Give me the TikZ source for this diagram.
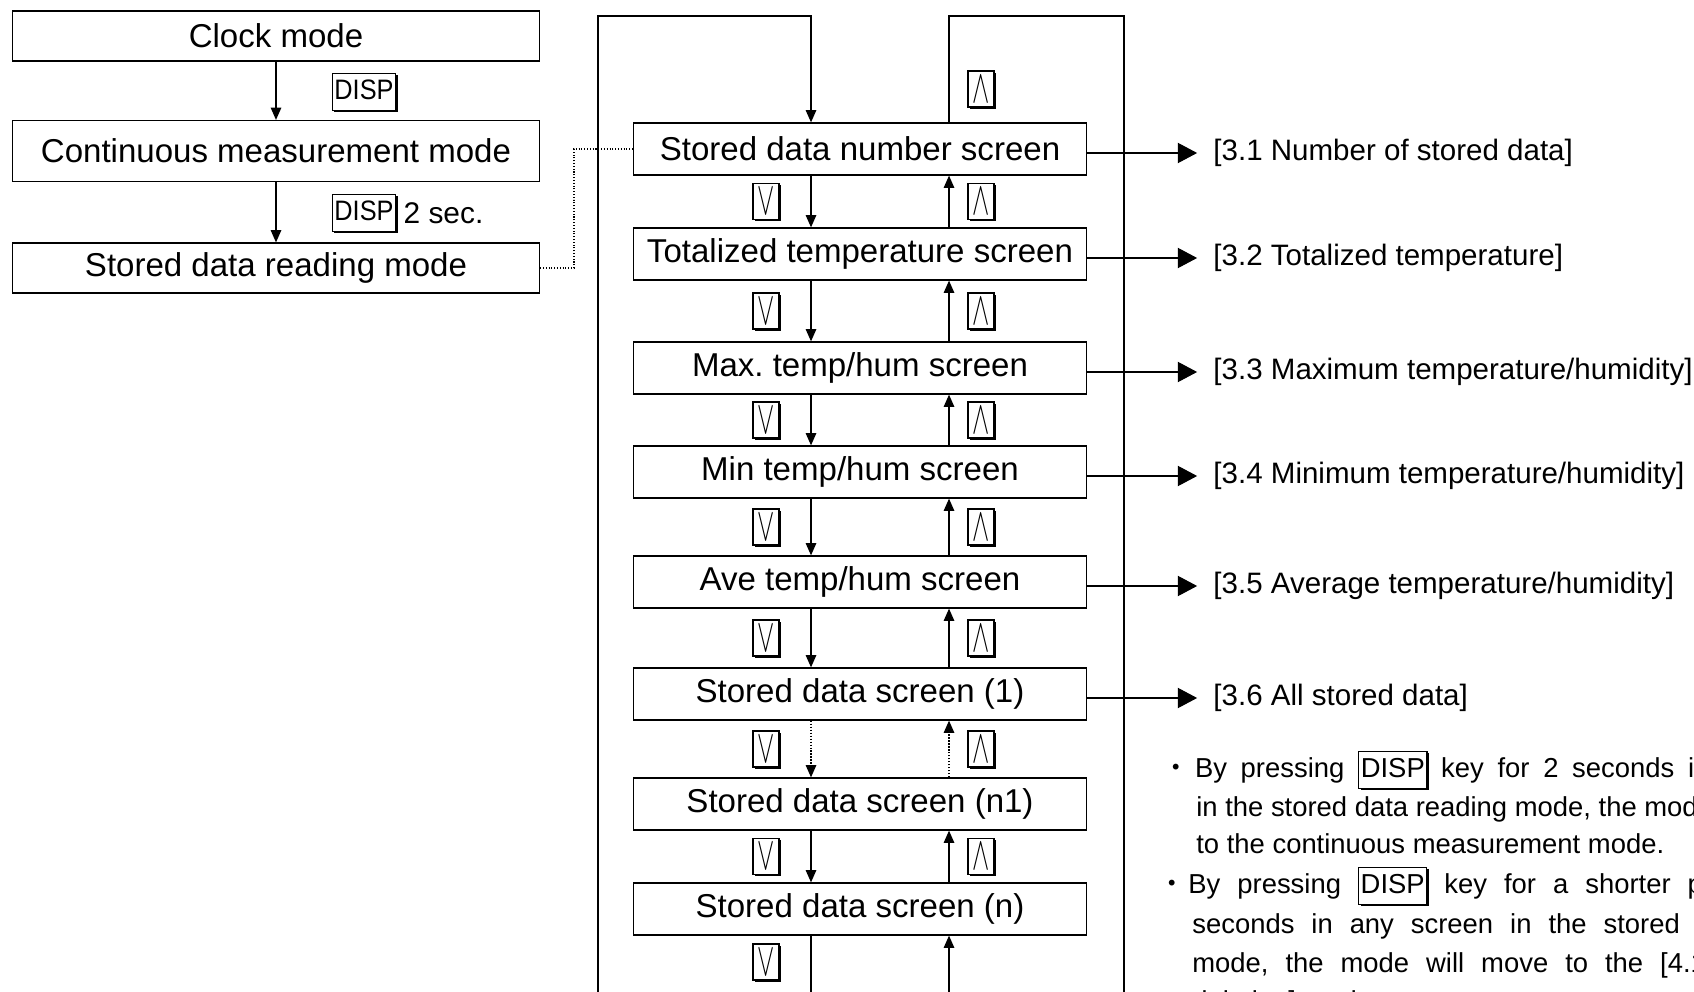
\documentclass[tikz,border=0pt]{standalone}
\usepackage{fontspec}
\usepackage{graphicx}
\setmainfont{Liberation Sans}
\newfontfamily\keyfont{Liberation Sans}[FakeStretch=0.9]
\newfontfamily\cjk{Noto Sans CJK JP}
\usetikzlibrary{positioning,arrows.meta,shadows}
\frenchspacing

\tikzset{
  modebox/.style={draw, line width=0.7pt, minimum width=10.54cm, minimum height=1cm, inner sep=0pt, font=\fontsize{18.8}{20}\selectfont},
  screenbox/.style={draw, line width=0.7pt, minimum width=9.06cm, minimum height=1.04cm, inner sep=0pt, font=\fontsize{18.8}{20}\selectfont},
  keyshadow/.style={drop shadow={shadow xshift=1.1pt, shadow yshift=-1.1pt, opacity=1, fill=black}},
  keybox/.style={draw, fill=white, line width=0.7pt, inner xsep=1.2pt, inner ysep=3pt, text height=11.5pt, text depth=3.5pt, keyshadow},
  keysym/.style={draw, fill=white, line width=0.7pt, inner sep=0pt, minimum width=5.2mm, minimum height=7.2mm, font=\fontsize{17}{17}\selectfont, keyshadow},
  arr/.style={-{Triangle[length=7pt,width=6pt]}, line width=0.7pt},
  bigarr/.style={-{Triangle[length=11pt,width=11.5pt]}, line width=0.7pt},
  res/.style={inner sep=0pt, font=\fontsize{16.8}{18}\selectfont},
  note/.style={anchor=base west, inner sep=0pt, font=\fontsize{15.6}{22}\selectfont}
}
\newcommand{\keycap}[1]{\tikz[baseline=(kc.base)]\node[keybox] (kc) {#1};}
\newcommand{\dnkey}{\scalebox{0.85}[1.55]{$\vee$}}
\newcommand{\upkey}{\scalebox{0.85}[1.55]{$\wedge$}}
\newcommand{\wide}{\spaceskip=0.5em\relax}
\newcommand{\wider}{\spaceskip=0.62em\relax}
\newcommand{\dotmark}{{\cjk ・}}

\begin{document}
\begin{tikzpicture}[x=0.2mm,y=0.2mm]
\useasboundingbox (0,0) rectangle (1694,-992);
\clip (0,0) rectangle (1694,-992);

\node[modebox] (clock) at (276,-36) {Clock mode};
\node[modebox, minimum height=1.22cm] (cont) at (276,-151) {Continuous measurement mode};
\node[modebox] (read) at (276,-268) {Stored data reading mode};
\draw[arr] (clock) -- (cont);
\draw[arr] (cont) -- (read);
\node[keybox, font=\keyfont\fontsize{16}{16}\selectfont] (d1) at (364,-92) {DISP};
\node[keybox, font=\keyfont\fontsize{16}{16}\selectfont] (d2) at (364,-213) {DISP};
\node[right=4pt of d2, inner sep=0pt, font=\fontsize{17}{17}\selectfont] (sec) {2 sec.};

\node[screenbox] (b1) at (860,-149) {Stored data number screen};
\node[screenbox] (b2) at (860,-254) {Totalized temperature screen};
\node[screenbox] (b3) at (860,-368) {Max. temp/hum screen};
\node[screenbox] (b4) at (860,-472) {Min temp/hum screen};
\node[screenbox] (b5) at (860,-582) {Ave temp/hum screen};
\node[screenbox] (b6) at (860,-694) {Stored data screen (1)};
\node[screenbox] (b7) at (860,-804) {Stored data screen (n1)};
\node[screenbox] (b8) at (860,-909) {Stored data screen (n)};

\coordinate (dcor) at (574,-200);
\draw[densely dotted, line width=0.6pt] (read.east) -| (dcor) |- (b1.west);

\coordinate (lcor) at (598,-16);
\coordinate (ltop) at (811,-16);
\coordinate (rtop) at (949,-16);
\coordinate (rcor) at (1124,-16);
\coordinate (kdn) at (766,-16);
\coordinate (kup) at (981,-16);
\coordinate (foot) at (0,-1010);

\draw[arr] (lcor |- foot) -- (lcor) -- (ltop) -- (b1.north -| ltop);
\draw[line width=0.7pt] (b1.north -| rtop) -- (rtop) -- (rcor) -- (rcor |- foot);
\draw[line width=0.7pt] (b8.south -| ltop) -- (ltop |- foot);
\draw[arr] (rtop |- foot) -- (b8.south -| rtop);

\foreach \i/\j/\ln in {1/2/solid,2/3/solid,3/4/solid,4/5/solid,5/6/solid,6/7/densely dotted,7/8/solid} {
  \draw[arr,\ln] (b\i.south -| ltop) -- (b\j.north -| ltop);
  \draw[arr,\ln] (b\j.north -| rtop) -- (b\i.south -| rtop);
  \path (b\i.south -| kdn) -- (b\j.north -| kdn) node[keysym, midway] (kd\i) {\dnkey};
  \path (b\i.south -| kup) -- (b\j.north -| kup) node[keysym, midway] (ku\i) {\upkey};
}
\node[keysym] (ku0) at (981,-89) {\upkey};
\node[keysym] (kd8) at (766,-962) {\dnkey};

\node[res, right=2.52cm of b1, yshift=-0.8mm] (r1) {[3.1 Number of stored data]};
\node[res, right=2.52cm of b2, yshift=-0.8mm] (r2) {[3.2 Totalized temperature]};
\node[res, right=2.52cm of b3, yshift=-0.8mm] (r3) {[3.3 Maximum temperature/humidity]};
\node[res, right=2.52cm of b4, yshift=-0.8mm] (r4) {[3.4 Minimum temperature/humidity]};
\node[res, right=2.52cm of b5, yshift=-0.8mm] (r5) {[3.5 Average temperature/humidity]};
\node[res, right=2.52cm of b6, yshift=-0.8mm] (r6) {[3.6 All stored data]};
\foreach \i in {1,...,6}
  \draw[bigarr, shorten >=3.2mm] (b\i.east |- r\i.west) -- (r\i.west);

\node[note] (n1) at (1162,-777) {\dotmark\hspace{3pt}{\wide By pressing \keycap{DISP} key for 2 seconds in}};
\node[note] (n2) at (1196,-816) {in the stored data reading mode, the mode};
\node[note] (n3) at (1196,-853) {to the continuous measurement mode.};
\node[note] (n4) at (1158,-893) {\dotmark\hspace{1.5pt}{\wider By pressing \keycap{DISP} key for a shorter period}};
\node[note] (n5) at (1192,-933) {{\wider seconds in any screen in the stored}};
\node[note] (n6) at (1192,-972) {{\wider mode, the mode will move to the [4.1}};
\node[note] (n7) at (1192,-1010) {deletion] mode.};
\end{tikzpicture}
\end{document}
